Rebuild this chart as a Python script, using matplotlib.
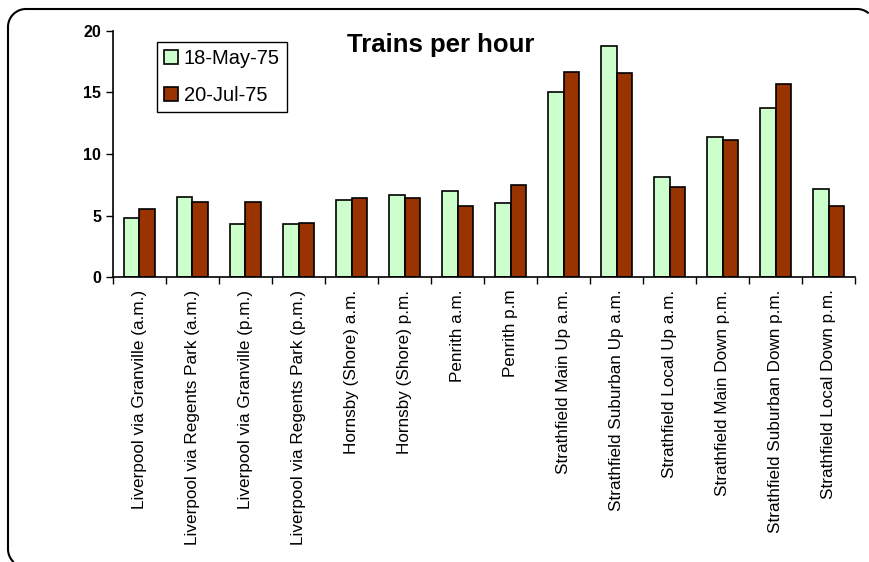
import matplotlib.pyplot as plt
import numpy as np
from matplotlib.lines import Line2D
from matplotlib.transforms import IdentityTransform

plt.rcParams['font.family'] = ['Liberation Sans', 'DejaVu Sans']

routes = ["Liverpool via Granville (a.m.)", "Liverpool via Regents Park (a.m.)",
          "Liverpool via Granville (p.m.)", "Liverpool via Regents Park (p.m.)",
          "Hornsby (Shore) a.m.", "Hornsby (Shore) p.m.", "Penrith a.m.", "Penrith p.m",
          "Strathfield Main Up a.m.", "Strathfield Suburban Up a.m.",
          "Strathfield Local Up a.m.", "Strathfield Main Down p.m.",
          "Strathfield Suburban Down p.m.", "Strathfield Local Down p.m."]
may75 = [4.8, 6.5, 4.3, 4.3, 6.25, 6.7, 7.0, 6.0, 15.0, 18.8, 8.1, 11.35, 13.7, 7.15]
jul75 = [5.5, 6.1, 6.1, 4.4, 6.4, 6.4, 5.75, 7.5, 16.7, 16.6, 7.35, 11.1, 15.7, 5.75]

W, H = 869, 562
fig = plt.figure(figsize=(W / 100, H / 100), dpi=100)

# rounded chart border in pixels; its right and bottom edges fall outside the picture
r = 18
left, right, bottom, top = 8, 875, -5, H - 9
def arc(cx, cy, a0, a1):
    a = np.radians(np.linspace(a0, a1, 30))
    return cx + r * np.cos(a), cy + r * np.sin(a)
parts = [arc(left + r, bottom + r, 270, 180), arc(left + r, top - r, 180, 90),
         arc(right - r, top - r, 90, 0)]
bx = np.concatenate([p[0] for p in parts])
by = np.concatenate([p[1] for p in parts])
keep = (bx <= W - 0.5) & (by >= 0.5)
fig.add_artist(Line2D(bx[keep], by[keep], transform=IdentityTransform(), color="black", lw=1.5))

ax = fig.add_axes([0.130, 0.507, 0.854, 0.438])

x = np.arange(len(routes))
w = 0.29
ax.bar(x - w / 2, may75, w, color="#ccffcc", edgecolor="black", lw=1.2, label="18-May-75")
ax.bar(x + w / 2, jul75, w, color="#993300", edgecolor="black", lw=1.2, label="20-Jul-75")

ax.set_xlim(-0.5, len(routes) - 0.5)
ax.set_ylim(0, 20)
ax.set_yticks([0, 5, 10, 15, 20])
ax.set_yticklabels(["0", "5", "10", "15", "20"], fontweight="bold", fontsize=11.5)
ax.set_xticks(x)
ax.set_xticklabels(routes, rotation=90, fontsize=12.3)
ax.tick_params(axis="x", length=0, pad=9)
ax.set_xticks(np.arange(len(routes) + 1) - 0.5, minor=True)
ax.tick_params(axis="x", which="minor", length=5, width=1)
ax.tick_params(axis="y", length=5, width=1)
for s in ["top", "right"]:
    ax.spines[s].set_visible(False)
ax.spines["left"].set_linewidth(1.2)
ax.spines["bottom"].set_linewidth(1.2)

ax.text(0.442, 0.943, "Trains per hour", transform=ax.transAxes, fontsize=18.5,
        fontweight="bold", ha="center", va="center")
leg = ax.legend(loc="upper left", bbox_to_anchor=(0.059, 0.955), borderaxespad=0,
                fontsize=14.5, fancybox=False, edgecolor="black", framealpha=1,
                handlelength=0.7, handleheight=0.7, handletextpad=0.3,
                borderpad=0.35, labelspacing=0.88)
leg.get_frame().set_linewidth(1.0)

fig.savefig("out.png", dpi=100)
